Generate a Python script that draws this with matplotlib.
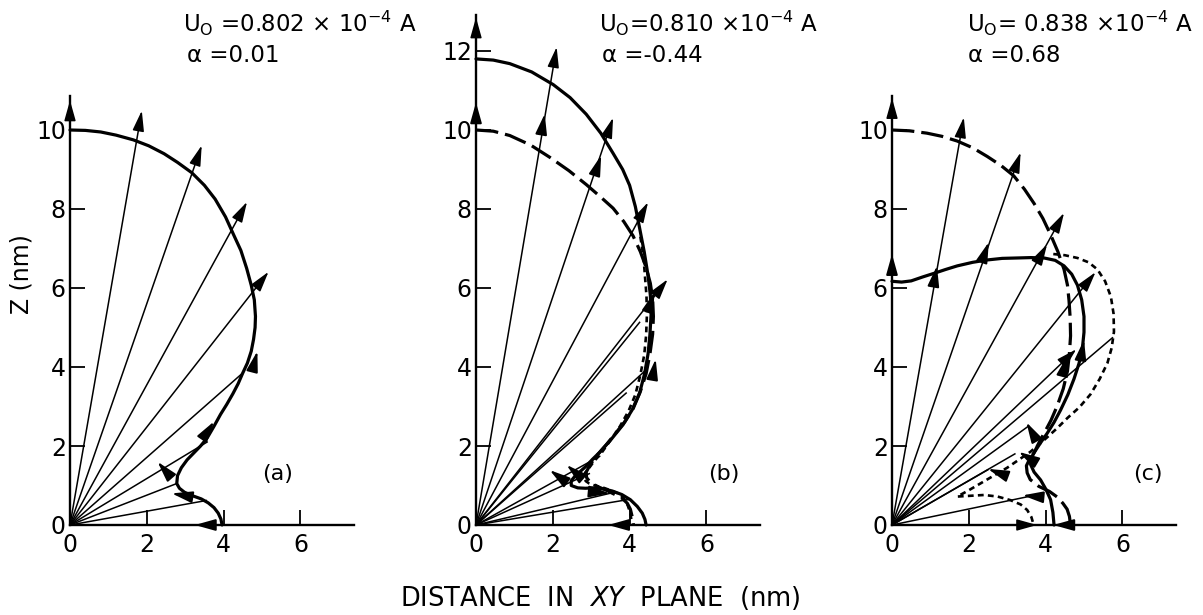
import matplotlib
matplotlib.use('Agg')
import matplotlib.pyplot as plt
import numpy as np

plt.rcParams['font.family'] = ['DejaVu Sans']
plt.rcParams['mathtext.fontset'] = 'dejavusans'

# ---------------- data (nm) ----------------
# panel (a)
a_solid_x = [0.0, 0.4, 0.8, 1.2, 1.65, 2.05, 2.45, 2.8, 3.17, 3.5, 3.78, 4.05, 4.26, 4.45, 4.6, 4.72, 4.8, 4.83, 4.82, 4.78, 4.72, 4.62, 4.50, 4.38, 4.24, 4.08, 3.92, 3.75, 3.57, 3.40, 3.22, 3.05, 2.90, 2.80, 2.78, 2.85, 2.98, 3.22, 3.42, 3.60, 3.75, 3.86, 3.93, 3.96]
a_solid_y = [10.0, 9.99, 9.95, 9.87, 9.75, 9.6, 9.4, 9.18, 8.92, 8.6, 8.25, 7.8, 7.35, 6.95, 6.5, 6.07, 5.7, 5.28, 5.0, 4.7, 4.4, 4.1, 3.85, 3.58, 3.32, 3.05, 2.80, 2.50, 2.20, 2.00, 1.82, 1.65, 1.45, 1.25, 1.05, 0.93, 0.83, 0.73, 0.66, 0.56, 0.44, 0.30, 0.15, 0.0]
a_ray_x = [0.0, 1.87, 3.43, 4.61, 5.17, 4.50, 3.57, 2.78, 3.55]
a_ray_y = [10.75, 10.49, 9.61, 8.18, 6.41, 3.85, 2.10, 1.05, 0.62]
a_ray_head = [1, 1, 1, 1, 1, 0, 0, 0, 0]
a_head_x = [4.88, 3.75, 2.28, 2.65, 3.25]
a_head_y = [4.40, 2.62, 1.60, 0.80, 0.0]
a_head_ang = [75, 55, 132, 170, 180]

# panel (b)
b_solid_x = [0.0, 0.45, 0.88, 1.45, 2.01, 2.45, 2.87, 3.25, 3.57, 3.82, 4.0, 4.15, 4.26, 4.38, 4.48, 4.54, 4.56, 4.53, 4.48, 4.39, 4.26, 4.07, 3.83, 3.53, 3.22, 3.03, 2.88, 2.72, 2.58, 2.48, 2.48, 2.65, 2.85, 3.05, 3.30, 3.55, 3.80, 4.02, 4.20, 4.33, 4.40, 4.43]
b_solid_y = [11.8, 11.77, 11.68, 11.47, 11.15, 10.82, 10.4, 9.92, 9.41, 9.0, 8.6, 8.06, 7.52, 6.92, 6.32, 5.82, 5.33, 4.83, 4.33, 3.83, 3.34, 2.92, 2.54, 2.18, 1.84, 1.66, 1.50, 1.36, 1.24, 1.12, 1.00, 0.94, 0.93, 0.94, 0.92, 0.86, 0.77, 0.64, 0.47, 0.30, 0.14, 0.0]
b_dash_x = [0.0, 0.45, 0.88, 1.42, 1.92, 2.42, 2.87, 3.25, 3.57, 3.85, 4.09, 4.28, 4.43, 4.54, 4.60, 4.62, 4.60, 4.53, 4.43, 4.28, 4.09, 3.88, 3.65, 3.40, 3.13, 2.98, 2.87, 2.88, 2.96, 3.15, 3.39, 3.60, 3.80, 3.94, 4.02, 4.07, 4.10]
b_dash_y = [10.0, 9.97, 9.86, 9.62, 9.31, 8.97, 8.62, 8.30, 8.02, 7.68, 7.32, 6.92, 6.52, 6.12, 5.73, 5.28, 4.83, 4.33, 3.83, 3.38, 2.94, 2.62, 2.34, 2.04, 1.74, 1.54, 1.34, 1.20, 1.10, 0.98, 0.88, 0.78, 0.68, 0.55, 0.40, 0.20, 0.0]
b_dot_x = [4.28, 4.36, 4.40, 4.44, 4.45, 4.43, 4.38, 4.28, 4.15, 3.97, 3.75, 3.50, 3.25, 3.08, 2.95, 2.84, 2.80, 2.86, 2.95, 3.10, 3.30, 3.50, 3.70, 3.85, 3.95, 4.02, 4.05]
b_dot_y = [7.30, 6.80, 6.30, 5.80, 5.30, 4.80, 4.30, 3.80, 3.30, 2.88, 2.50, 2.14, 1.80, 1.62, 1.45, 1.32, 1.20, 1.11, 1.05, 1.00, 0.95, 0.88, 0.80, 0.67, 0.50, 0.30, 0.10]
b_ray_x = [0.0, 2.10, 3.57, 4.48, 4.99, 4.26, 4.40, 3.91, 3.22, 2.95, 3.48, 4.00]
b_ray_y = [12.85, 12.10, 10.31, 8.17, 6.22, 5.13, 3.90, 3.34, 1.74, 1.30, 0.80, 0.65]
b_ray_head = [1, 1, 1, 1, 1, 0, 0, 0, 0, 0, 0, 0]
b_head_x = [0.0, 1.79, 3.26, 4.65, 4.68, 1.92, 2.36, 3.48, 3.44]
b_head_y = [10.7, 10.41, 9.36, 5.90, 4.20, 1.39, 1.52, 0.80, 0.0]
b_head_ang = [90, 80, 71, 70, 80, 145, 140, -5, 180]

# panel (c)
c_solid_x = [0.0, 0.25, 0.5, 0.8, 1.09, 1.40, 1.70, 2.10, 2.48, 2.87, 3.26, 3.62, 3.96, 4.25, 4.48, 4.68, 4.83, 4.94, 5.0, 5.0, 4.96, 4.87, 4.74, 4.58, 4.39, 4.22, 4.04, 3.86, 3.70, 3.62, 3.61, 3.70, 3.87, 4.01, 4.13, 4.19, 4.22]
c_solid_y = [6.17, 6.15, 6.18, 6.28, 6.37, 6.47, 6.56, 6.65, 6.71, 6.75, 6.76, 6.77, 6.76, 6.70, 6.56, 6.35, 6.07, 5.70, 5.28, 4.88, 4.49, 4.09, 3.70, 3.30, 2.91, 2.60, 2.32, 2.07, 1.83, 1.68, 1.53, 1.34, 1.14, 0.90, 0.64, 0.32, 0.0]
c_dash_x = [0.0, 0.45, 0.91, 1.30, 1.70, 2.10, 2.48, 2.84, 3.17, 3.45, 3.70, 3.93, 4.13, 4.32, 4.48, 4.57, 4.61, 4.64, 4.65, 4.62, 4.57, 4.46, 4.30, 4.14, 3.96, 3.82, 3.70, 3.58, 3.50, 3.52, 3.60, 3.82, 4.10, 4.30, 4.45, 4.56, 4.62, 4.65]
c_dash_y = [10.0, 9.98, 9.92, 9.84, 9.72, 9.55, 9.33, 9.10, 8.84, 8.50, 8.14, 7.76, 7.35, 6.92, 6.47, 6.07, 5.68, 5.24, 4.79, 4.34, 3.90, 3.45, 3.01, 2.65, 2.32, 2.07, 1.83, 1.66, 1.50, 1.32, 1.15, 0.98, 0.85, 0.71, 0.55, 0.40, 0.22, 0.0]
c_dot_x = [4.20, 4.50, 4.83, 5.12, 5.35, 5.55, 5.70, 5.77, 5.78, 5.72, 5.61, 5.41, 5.17, 4.88, 4.57, 4.30, 4.04, 3.82, 3.60, 3.30, 3.00, 2.65, 2.30, 2.00, 1.70, 2.05, 2.40, 2.75, 3.08, 3.35, 3.52, 3.63, 3.69]
c_dot_y = [6.86, 6.83, 6.76, 6.65, 6.47, 6.17, 5.78, 5.35, 4.89, 4.48, 4.10, 3.70, 3.31, 2.98, 2.71, 2.45, 2.22, 2.03, 1.85, 1.65, 1.45, 1.25, 1.05, 0.88, 0.72, 0.74, 0.76, 0.72, 0.63, 0.52, 0.38, 0.20, 0.0]
c_ray_x = [0.0, 1.87, 3.35, 4.48, 5.30, 5.74, 4.80, 3.55, 3.20, 2.50, 3.70, 3.78]
c_ray_y = [10.81, 10.32, 9.43, 7.90, 6.40, 4.74, 4.45, 2.50, 1.80, 1.40, 0.75, 0.0]
c_ray_head = [1, 1, 1, 1, 1, 0, 1, 0, 0, 0, 0, 1]
c_head_x = [0.0, 1.17, 2.52, 4.04, 5.00, 4.57, 3.50, 3.30, 2.50, 3.40, 4.20]
c_head_y = [6.86, 6.56, 7.16, 7.11, 4.69, 4.29, 2.60, 1.85, 1.42, 0.75, 0.0]
c_head_ang = [90, 80, 70, 60, 80, 75, 120, 150, 160, 175, 180]

titles_u = [r'U$_{\mathrm{O}}$ =0.802 × 10$^{-4}$ A', r'U$_{\mathrm{O}}$=0.810 ×10$^{-4}$ A', r'U$_{\mathrm{O}}$= 0.838 ×10$^{-4}$ A']
titles_a = ['α =0.01', 'α =-0.44', 'α =0.68']
panel_labels = ['(a)', '(b)', '(c)']
yticks_a = [0, 2, 4, 6, 8, 10]
yticks_b = [0, 2, 4, 6, 8, 10, 12]
xticks = [0, 2, 4, 6]

# ---------------- layout ----------------
W, H = 1203, 615
SX, SY = 38.4, 39.5
Y0 = 525
XMAX = 7.4
fig = plt.figure(figsize=(W / 100, H / 100), dpi=100)

HEAD = '-|>,head_length=1.0,head_width=0.28'


def arrow(ax, x0, y0, x1, y1, lw=1.1):
    ax.annotate('', xy=(x1, y1), xytext=(x0, y0), annotation_clip=False,
                arrowprops=dict(arrowstyle=HEAD, mutation_scale=12.5, lw=lw,
                                color='k', shrinkA=0, shrinkB=0))


def make_ax(x0px, ytop, yt):
    ax = fig.add_axes([x0px / W, (H - Y0) / H, XMAX * SX / W, ytop * SY / H])
    ax.set_xlim(0, XMAX)
    ax.set_ylim(0, ytop)
    for s in ['top', 'right']:
        ax.spines[s].set_visible(False)
    for s in ['left', 'bottom']:
        ax.spines[s].set_linewidth(1.7)
    ax.set_xticks(xticks)
    ax.set_yticks(yt)
    ax.tick_params(direction='in', length=11, width=1.3, labelsize=17)
    ax.tick_params(axis='x', pad=6)
    ax.tick_params(axis='y', pad=3)
    ax.patch.set_visible(False)
    return ax


def draw_panel(ax, rx, ry, rh, hx, hy, ha, curves):
    for (cx, cy, style) in curves:
        if style == 'solid':
            ax.plot(cx, cy, color='k', lw=2.3, clip_on=False, solid_capstyle='round',
                    solid_joinstyle='round')
        elif style == 'dash':
            ax.plot(cx, cy, color='k', lw=2.3, ls=(0, (7, 2.2)), clip_on=False)
        else:
            ax.plot(cx, cy, color='k', lw=1.9, ls=(0, (2.2, 1.6)), clip_on=False)
    for x, y, h in zip(rx, ry, rh):
        if h:
            arrow(ax, 0, 0, x, y)
        else:
            ax.plot([0, x], [0, y], color='k', lw=1.1, clip_on=False)
    for x, y, a in zip(hx, hy, ha):
        t = np.deg2rad(a)
        arrow(ax, x - 0.45 * np.cos(t), y - 0.45 * np.sin(t), x, y, lw=1.4)


axA = make_ax(70, 10.85, yticks_a)
draw_panel(axA, a_ray_x, a_ray_y, a_ray_head, a_head_x, a_head_y, a_head_ang,
           [(a_solid_x, a_solid_y, 'solid')])
axB = make_ax(476, 12.9, yticks_b)
draw_panel(axB, b_ray_x, b_ray_y, b_ray_head, b_head_x, b_head_y, b_head_ang,
           [(b_solid_x, b_solid_y, 'solid'), (b_dash_x, b_dash_y, 'dash'), (b_dot_x, b_dot_y, 'dot')])
axC = make_ax(892, 10.85, yticks_a)
draw_panel(axC, c_ray_x, c_ray_y, c_ray_head, c_head_x, c_head_y, c_head_ang,
           [(c_solid_x, c_solid_y, 'solid'), (c_dash_x, c_dash_y, 'dash'), (c_dot_x, c_dot_y, 'dot')])

# panel labels
for ax, lab, px in zip([axA, axB, axC], panel_labels, [5.4, 6.45, 6.66]):
    ax.text(px, 1.3, lab, fontsize=16, ha='center', va='center')

# titles (figure pixel positions)
for x_u, x_a, tu, ta in zip([183, 599, 967], [187, 602, 968], titles_u, titles_a):
    fig.text(x_u / W, 1 - 32 / H, tu, fontsize=16.5, ha='left', va='baseline')
    fig.text(x_a / W, 1 - 62 / H, ta, fontsize=16.5, ha='left', va='baseline')

fig.text(22 / W, 1 - 274 / H, 'Z (nm)', rotation=90, fontsize=17, ha='center', va='center')
fig.text(600 / W, 1 - 598 / H, r'DISTANCE  IN  $\it{XY}$  PLANE  (nm)', fontsize=18.5,
         ha='center', va='center')

fig.savefig('out.png', dpi=100)
